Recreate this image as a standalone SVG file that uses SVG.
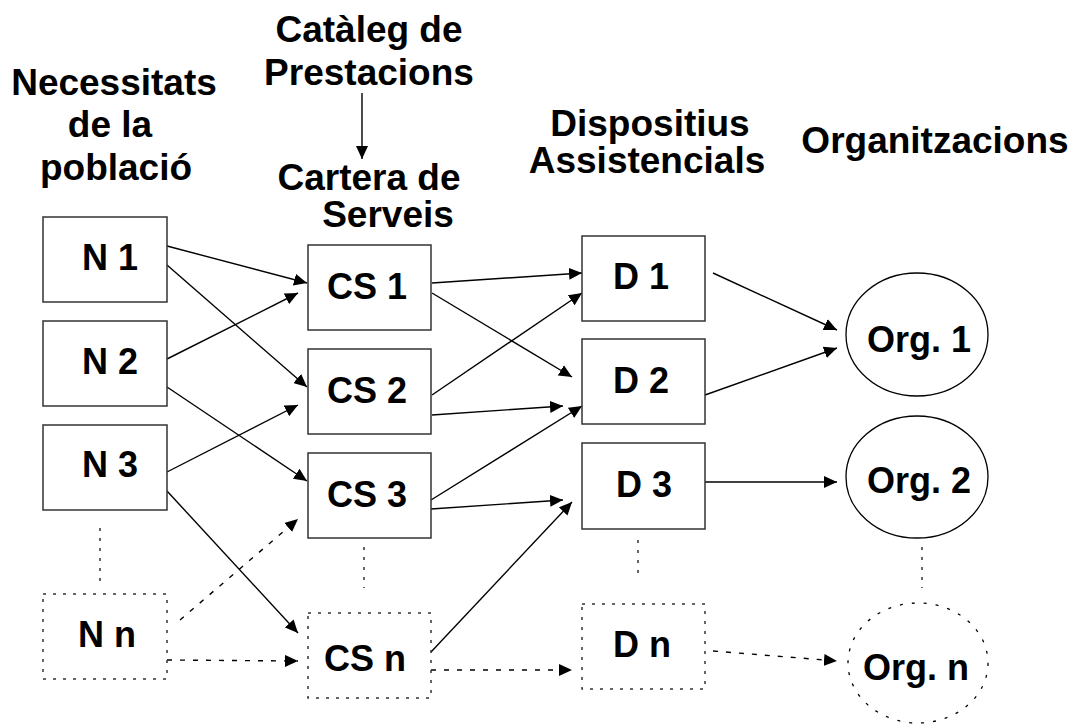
<svg xmlns="http://www.w3.org/2000/svg" width="1077" height="724" viewBox="0 0 1077 724">
<style>
  text { font-family: "Liberation Sans", Arial, sans-serif; font-weight: bold; fill: #000; text-anchor: middle; }
  .hdr { font-size: 37px; }
  .lbl { font-size: 36px; }
  .box { fill: #fff; stroke: #333; stroke-width: 1.5; }
  .dbox { fill: #fff; stroke: #333; stroke-width: 1.5; stroke-dasharray: 3 7; }
  .ell { fill: #fff; stroke: #000; stroke-width: 1.3; }
  .dell { fill: #fff; stroke: #000; stroke-width: 1.3; stroke-dasharray: 3 9; }
  .ln { stroke: #000; stroke-width: 1.4; fill: none; }
  .dln { stroke: #000; stroke-width: 1.4; fill: none; stroke-dasharray: 5 8; }
  .vdot { stroke: #333; stroke-width: 1.5; fill: none; stroke-dasharray: 3 7; }
</style>
<defs>
  <marker id="ah" markerUnits="userSpaceOnUse" markerWidth="13" markerHeight="12" refX="13" refY="6" orient="auto" viewBox="0 0 13 12">
    <path d="M0,0 L13,6 L0,12 Z" fill="#000"/>
  </marker>
</defs>
<rect width="1077" height="724" fill="#fff"/>

<g id="headers">
  <text class="hdr" x="114" y="95">Necessitats</text>
  <text class="hdr" x="110" y="137">de la</text>
  <text class="hdr" x="116" y="180">població</text>
  <text class="hdr" x="369" y="42">Catàleg de</text>
  <text class="hdr" x="369" y="85">Prestacions</text>
  <text class="hdr" x="369" y="190">Cartera de</text>
  <text class="hdr" x="388" y="227">Serveis</text>
  <text class="hdr" x="650" y="136">Dispositius</text>
  <text class="hdr" x="647" y="173">Assistencials</text>
  <text class="hdr" x="935" y="153">Organitzacions</text>
</g>

<g id="connectors">
  <line class="ln" x1="362" y1="93" x2="362" y2="159" marker-end="url(#ah)"/>
  <line class="ln" x1="167" y1="246" x2="307" y2="283" marker-end="url(#ah)"/>
  <line class="ln" x1="167" y1="265" x2="307" y2="387" marker-end="url(#ah)"/>
  <line class="ln" x1="167" y1="359" x2="298" y2="293" marker-end="url(#ah)"/>
  <line class="ln" x1="167" y1="387" x2="307" y2="481" marker-end="url(#ah)"/>
  <line class="ln" x1="167" y1="472" x2="298" y2="405" marker-end="url(#ah)"/>
  <line class="ln" x1="167" y1="491" x2="298" y2="633" marker-end="url(#ah)"/>
  <line class="dln" x1="180" y1="620" x2="298" y2="519" marker-end="url(#ah)"/>
  <line class="dln" x1="167" y1="660" x2="298" y2="661" marker-end="url(#ah)"/>
  <line class="ln" x1="432" y1="283" x2="582" y2="273" marker-end="url(#ah)"/>
  <line class="ln" x1="432" y1="293" x2="572" y2="377" marker-end="url(#ah)"/>
  <line class="ln" x1="432" y1="395" x2="582" y2="293" marker-end="url(#ah)"/>
  <line class="ln" x1="432" y1="415" x2="563" y2="406" marker-end="url(#ah)"/>
  <line class="ln" x1="431" y1="500" x2="582" y2="406" marker-end="url(#ah)"/>
  <line class="ln" x1="431" y1="509" x2="563" y2="500" marker-end="url(#ah)"/>
  <line class="ln" x1="431" y1="652" x2="572" y2="502" marker-end="url(#ah)"/>
  <line class="dln" x1="431" y1="670" x2="572" y2="670" marker-end="url(#ah)"/>
  <line class="ln" x1="713" y1="273" x2="837" y2="330" marker-end="url(#ah)"/>
  <line class="ln" x1="705" y1="395" x2="837" y2="348" marker-end="url(#ah)"/>
  <line class="ln" x1="705" y1="482" x2="837" y2="482" marker-end="url(#ah)"/>
  <line class="dln" x1="713" y1="651" x2="837" y2="661" marker-end="url(#ah)"/>
  <line class="vdot" x1="100" y1="528" x2="100" y2="585"/>
  <line class="vdot" x1="364" y1="547" x2="364" y2="588"/>
  <line class="vdot" x1="638" y1="540" x2="638" y2="580"/>
  <line class="vdot" x1="922" y1="547" x2="922" y2="588"/>
</g>

<g id="N1"><rect class="box" x="43" y="217" width="124" height="85"/><text class="lbl" x="110" y="270">N 1</text></g>
<g id="N2"><rect class="box" x="43" y="321" width="124" height="85"/><text class="lbl" x="110" y="374">N 2</text></g>
<g id="N3"><rect class="box" x="43" y="425" width="124" height="85"/><text class="lbl" x="110" y="477">N 3</text></g>
<g id="Nn"><rect class="dbox" x="43" y="594" width="124" height="85"/><text class="lbl" x="107" y="647">N n</text></g>

<g id="CS1"><rect class="box" x="308" y="245" width="123" height="85"/><text class="lbl" x="367" y="299">CS 1</text></g>
<g id="CS2"><rect class="box" x="308" y="349" width="123" height="85"/><text class="lbl" x="367" y="403">CS 2</text></g>
<g id="CS3"><rect class="box" x="308" y="453" width="123" height="85"/><text class="lbl" x="367" y="507">CS 3</text></g>
<g id="CSn"><rect class="dbox" x="308" y="613" width="123" height="85"/><text class="lbl" x="365" y="671">CS n</text></g>

<g id="D1"><rect class="box" x="582" y="236" width="123" height="85"/><text class="lbl" x="641" y="289">D 1</text></g>
<g id="D2"><rect class="box" x="582" y="339" width="123" height="85"/><text class="lbl" x="641" y="393">D 2</text></g>
<g id="D3"><rect class="box" x="582" y="443" width="123" height="86"/><text class="lbl" x="644" y="497">D 3</text></g>
<g id="Dn"><rect class="dbox" x="582" y="604" width="123" height="85"/><text class="lbl" x="642" y="657">D n</text></g>

<g id="Org1"><ellipse class="ell" cx="917" cy="334.5" rx="71" ry="61.5"/><text class="lbl" x="919" y="352">Org. 1</text></g>
<g id="Org2"><ellipse class="ell" cx="917" cy="477" rx="71" ry="61"/><text class="lbl" x="919" y="493">Org. 2</text></g>
<g id="Orgn"><ellipse class="dell" cx="918" cy="663" rx="70" ry="60"/><text class="lbl" x="916" y="680">Org. n</text></g>
</svg>
